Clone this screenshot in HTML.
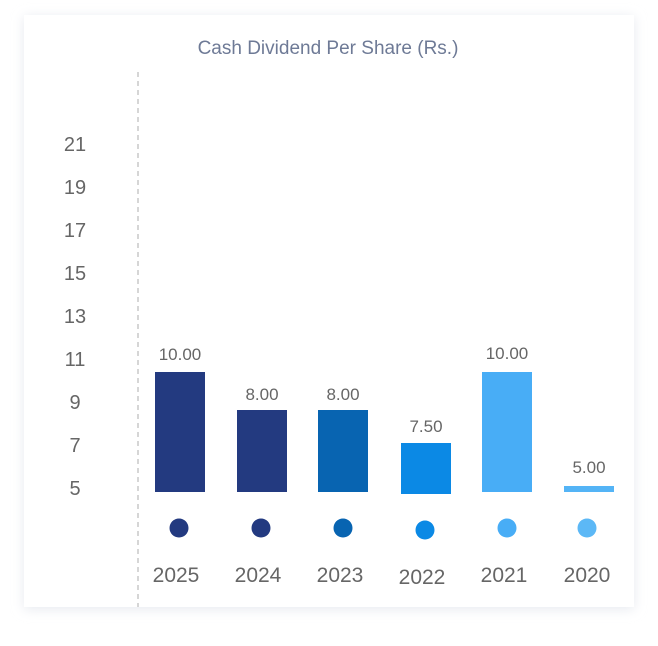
<!DOCTYPE html>
<html><head><style>
body{margin:0;background:#fff;width:658px;height:641px;overflow:hidden}
</style></head><body>
<svg width="658" height="641" xmlns="http://www.w3.org/2000/svg" font-family="Liberation Sans, sans-serif">
<defs><filter id="s" x="-10%" y="-10%" width="120%" height="120%"><feGaussianBlur stdDeviation="6"/></filter></defs>
<rect x="24" y="17" width="610" height="592" fill="#e6e9ef" filter="url(#s)"/>
<rect x="24" y="15" width="610" height="592" fill="#fff"/>
<text x="328" y="54" text-anchor="middle" font-size="19" fill="#6e7a96">Cash Dividend Per Share (Rs.)</text>
<line x1="138" y1="72" x2="138" y2="607" stroke="#c8c8c8" stroke-width="1.5" stroke-dasharray="5,4"/>
<g font-size="20" fill="#666" text-anchor="middle">
<text x="75" y="151">21</text><text x="75" y="194">19</text><text x="75" y="237">17</text><text x="75" y="280">15</text><text x="75" y="323">13</text><text x="75" y="366">11</text><text x="75" y="409">9</text><text x="75" y="452">7</text><text x="75" y="495">5</text>
</g>
<rect x="155" y="372" width="50" height="120" fill="#233a80"/>
<rect x="237" y="410" width="50" height="82" fill="#233a80"/>
<rect x="318" y="410" width="50" height="82" fill="#0864b1"/>
<rect x="401" y="443" width="50" height="51" fill="#0b89e5"/>
<rect x="482" y="372" width="50" height="120" fill="#48adf6"/>
<rect x="564" y="486" width="50" height="6" fill="#54b4f6"/>
<g font-size="17" fill="#666" text-anchor="middle">
<text x="180" y="360">10.00</text><text x="262" y="400">8.00</text><text x="343" y="400">8.00</text><text x="426" y="432">7.50</text><text x="507" y="359">10.00</text><text x="589" y="473">5.00</text>
</g>
<circle cx="179" cy="528" r="9.5" fill="#233a80"/>
<circle cx="261" cy="528" r="9.5" fill="#233a80"/>
<circle cx="343" cy="528" r="9.5" fill="#0864b1"/>
<circle cx="425" cy="530" r="9.5" fill="#0b89e5"/>
<circle cx="507" cy="528" r="9.5" fill="#48adf6"/>
<circle cx="587" cy="528" r="9.5" fill="#5cb8f6"/>
<g font-size="21" fill="#666" text-anchor="middle">
<text x="176" y="582">2025</text><text x="258" y="582">2024</text><text x="340" y="582">2023</text><text x="422" y="584">2022</text><text x="504" y="582">2021</text><text x="587" y="582">2020</text>
</g>
</svg>
</body></html>
